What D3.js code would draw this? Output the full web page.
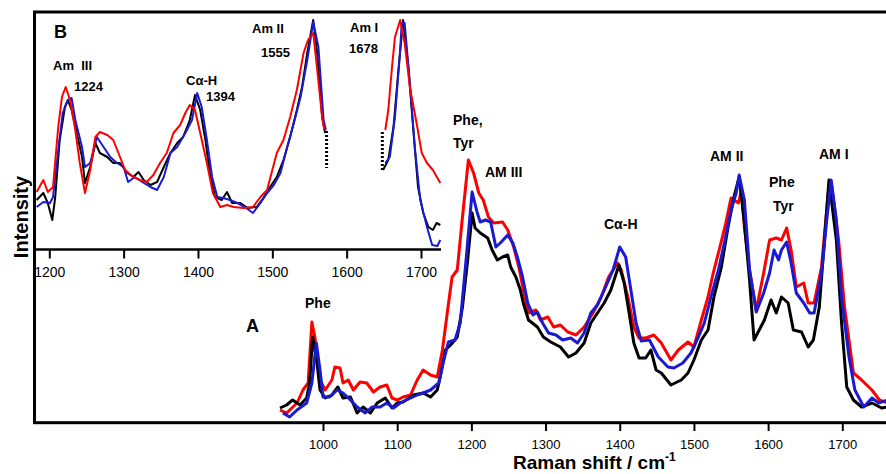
<!DOCTYPE html>
<html>
<head>
<meta charset="utf-8">
<script src="https://cdn.jsdelivr.net/npm/d3@7"></script>
<style>
  body { margin: 0; background: #fff; }
  svg { display: block; }
  text { font-family: Arial, "Liberation Sans", sans-serif; fill: #000; }
</style>
</head>
<body>
<div id="chart"></div>
<script>
// main spectra (A): [raman shift, intensity a.u.]
var mainRed = [
  [942,13],[951,10],[965,20],[973,33],[980,40],[985,101],[989,86],[996,43],[1003,33],[1012,43],[1016,56],
  [1023,55],[1027,40],[1034,43],[1041,33],[1050,41],[1059,40],[1068,31],[1077,36],[1086,38],[1093,25],
  [1100,23],[1108,26],[1118,28],[1127,43],[1135,53],[1145,48],[1154,46],[1161,73],[1168,113],[1174,146],
  [1181,153],[1188,206],[1196,263],[1203,250],[1210,230],[1216,223],[1223,206],[1230,200],[1242,201],
  [1249,193],[1257,176],[1264,156],[1270,133],[1277,110],[1287,113],[1293,103],[1303,106],[1311,96],
  [1320,98],[1330,91],[1341,88],[1352,96],[1364,110],[1375,126],[1385,146],[1397,160],[1402,153],
  [1411,126],[1419,96],[1426,85],[1435,85],[1446,88],[1456,80],[1469,63],[1479,73],[1492,81],[1500,76],
  [1510,103],[1519,126],[1526,150],[1534,173],[1543,200],[1550,225],[1560,220],[1564,233],[1568,196],
  [1575,153],[1584,113],[1594,150],[1602,183],[1611,185],[1618,183],[1625,195],[1631,173],[1638,136],
  [1648,140],[1654,120],[1662,120],[1672,156],[1681,230],[1685,241],[1695,183],[1703,116],[1715,50],
  [1726,43],[1740,33],[1750,23],[1761,20]
];
var mainBlack = [
  [942,15],[951,18],[959,23],[969,18],[978,25],[982,40],[986,86],[992,60],[996,33],[1003,25],[1012,28],
  [1020,36],[1027,25],[1037,26],[1046,10],[1054,16],[1064,10],[1073,20],[1084,25],[1093,15],[1100,20],
  [1108,21],[1122,28],[1135,30],[1145,26],[1154,33],[1158,46],[1165,73],[1172,78],[1181,86],[1188,116],
  [1195,163],[1201,210],[1205,195],[1212,190],[1222,185],[1228,173],[1235,163],[1242,166],[1249,168],
  [1253,156],[1260,146],[1266,133],[1270,120],[1277,103],[1289,96],[1297,86],[1307,81],[1320,76],
  [1331,66],[1341,70],[1352,80],[1361,100],[1370,110],[1379,120],[1388,133],[1399,158],[1406,140],
  [1412,113],[1419,80],[1426,65],[1435,65],[1442,73],[1449,53],[1456,50],[1469,38],[1483,43],[1492,50],
  [1500,63],[1510,83],[1519,93],[1527,126],[1537,156],[1546,196],[1554,226],[1561,246],[1568,200],
  [1575,143],[1581,83],[1588,93],[1595,103],[1604,123],[1611,110],[1618,126],[1627,120],[1634,93],
  [1645,91],[1654,76],[1661,83],[1669,116],[1676,183],[1682,243],[1692,183],[1699,100],[1706,36],
  [1715,23],[1726,16],[1740,20],[1753,15],[1761,16]
];
var mainBlue = [
  [946,10],[955,6],[965,13],[978,20],[985,40],[991,80],[996,53],[1000,26],[1009,26],[1019,33],[1027,30],
  [1037,23],[1046,16],[1057,10],[1066,16],[1077,16],[1086,20],[1095,15],[1104,20],[1118,25],[1127,28],
  [1135,30],[1145,33],[1156,40],[1162,60],[1169,81],[1178,83],[1185,100],[1192,156],[1201,231],[1208,210],
  [1212,201],[1219,203],[1226,201],[1233,176],[1239,180],[1249,188],[1256,180],[1262,166],[1269,146],
  [1276,120],[1283,108],[1289,111],[1296,100],[1304,90],[1314,88],[1323,83],[1334,85],[1343,80],
  [1352,90],[1361,110],[1370,118],[1381,136],[1391,153],[1400,176],[1408,166],[1415,133],[1422,100],
  [1429,82],[1440,83],[1452,66],[1465,56],[1473,55],[1485,60],[1496,70],[1506,86],[1514,100],[1523,126],
  [1533,153],[1541,180],[1550,213],[1557,230],[1561,248],[1568,223],[1575,153],[1584,111],[1594,130],
  [1602,150],[1608,173],[1614,163],[1618,173],[1625,181],[1631,160],[1638,130],[1648,120],[1656,110],
  [1662,110],[1672,150],[1679,203],[1685,243],[1692,203],[1699,126],[1709,66],[1717,33],[1729,16],
  [1740,25],[1749,20],[1761,23]
];

// inset spectra (B), two ranges each side of the break
var insetBlack = [
  [1183,49],[1192,56],[1198,46],[1204,29],[1208,52],[1214,109],[1221,142],[1225,149],[1230,139],[1237,116],
  [1244,92],[1248,66],[1255,82],[1262,106],[1268,96],[1278,92],[1286,86],[1295,86],[1305,76],[1313,72],
  [1320,77],[1327,69],[1336,64],[1345,67],[1354,82],[1363,96],[1372,106],[1380,112],[1389,129],[1396,154],
  [1403,139],[1410,109],[1416,76],[1423,52],[1432,49],[1439,57],[1446,46],[1457,46],[1467,41],[1479,42],
  [1488,51],[1497,62],[1506,72],[1515,89],[1524,112],[1533,139],[1540,162],[1547,196],[1555,229],
  [1560,199],[1567,132],[1571,116]
];
var insetBlack2 = [
  [1649,79],[1656,89],[1663,122],[1670,182],[1676,229],[1683,182],[1690,116],[1696,62],[1703,36],
  [1710,22],[1716,19],[1721,26],[1726,24]
];
var insetBlue = [
  [1183,42],[1192,47],[1201,46],[1205,52],[1212,99],[1218,136],[1225,149],[1230,151],[1235,129],[1244,102],
  [1248,82],[1255,86],[1264,112],[1273,102],[1282,92],[1291,86],[1300,82],[1306,67],[1315,72],[1325,67],
  [1336,62],[1345,59],[1354,72],[1363,96],[1372,102],[1383,116],[1392,129],[1399,156],[1405,142],
  [1412,109],[1419,72],[1426,52],[1434,51],[1443,49],[1453,46],[1463,42],[1474,36],[1484,46],[1493,56],
  [1502,64],[1511,76],[1520,102],[1529,126],[1538,152],[1547,189],[1555,227],[1562,202],[1569,129],
  [1572,119]
];
var insetBlue2 = [
  [1652,86],[1658,92],[1665,132],[1672,199],[1674,226],[1678,226],[1685,166],[1692,99],[1699,49],
  [1708,22],[1715,4],[1722,3],[1726,9]
];
var insetRed = [
  [1183,57],[1192,69],[1198,57],[1205,62],[1212,122],[1217,152],[1222,162],[1228,149],[1235,119],
  [1241,86],[1248,56],[1255,79],[1262,112],[1268,117],[1278,114],[1286,109],[1293,96],[1302,79],
  [1313,72],[1322,69],[1331,67],[1340,74],[1349,86],[1358,96],[1367,116],[1376,124],[1383,136],
  [1389,144],[1396,139],[1403,116],[1412,86],[1420,56],[1430,42],[1439,44],[1448,42],[1461,41],
  [1474,42],[1484,52],[1493,59],[1506,96],[1515,109],[1524,132],[1533,159],[1542,196],[1548,209],
  [1555,216],[1560,182],[1567,132],[1570,119]
];
var insetRed2 = [
  [1652,119],[1656,139],[1661,182],[1665,212],[1672,229],[1678,206],[1685,162],[1695,122],[1701,96],
  [1708,86],[1716,79],[1726,66]
];
// break marks in the inset: [raman shift, intensity from, intensity to]
var breakMarks = [[1573,118,81],[1648,117,79]];

var mainTicks = [1000,1100,1200,1300,1400,1500,1600,1700];
var insetTicks = [1200,1300,1400,1500,1600,1700];

var width = 886, height = 474;
var svg = d3.select('#chart').append('svg')
  .attr('width', width)
  .attr('height', height);

var x = d3.scaleLinear().domain([1000,1700]).range([323,842.3]);
var y = d3.scaleLinear().domain([0,411]).range([423,12]);
var xIn = d3.scaleLinear().domain([1200,1700]).range([49.3,421]);
var yIn = d3.scaleLinear().domain([0,237]).range([249,12]);

svg.append('clipPath').attr('id','plotclip')
  .append('rect').attr('x',35).attr('y',12).attr('width',860).attr('height',410);

var line = d3.line().x(function(d){ return x(d[0]) }).y(function(d){ return y(d[1]) });
var lineIn = d3.line().x(function(d){ return xIn(d[0]) }).y(function(d){ return yIn(d[1]) });

// main spectra
var mainSeries = [
  {data: mainRed, color: '#ff0000'},
  {data: mainBlack, color: '#000000'},
  {data: mainBlue, color: '#1a1ad0'}
];
svg.append('g').attr('clip-path','url(#plotclip)')
  .selectAll('path')
  .data(mainSeries)
  .enter()
  .append('path')
  .attr('d', function(d){ return line(d.data) })
  .attr('fill','none')
  .attr('stroke', function(d){ return d.color })
  .attr('stroke-width', 3)
  .attr('stroke-linejoin','round');

// inset spectra
var insetSeries = [
  {data: insetBlack, color: '#000000'},
  {data: insetBlack2, color: '#000000'},
  {data: insetBlue, color: '#1a1ad0'},
  {data: insetBlue2, color: '#1a1ad0'},
  {data: insetRed, color: '#ff0000'},
  {data: insetRed2, color: '#ff0000'}
];
svg.append('g')
  .selectAll('path')
  .data(insetSeries)
  .enter()
  .append('path')
  .attr('d', function(d){ return lineIn(d.data) })
  .attr('fill','none')
  .attr('stroke', function(d){ return d.color })
  .attr('stroke-width', 2)
  .attr('stroke-linejoin','round');

svg.selectAll('.brk')
  .data(breakMarks)
  .enter()
  .append('line')
  .attr('class','brk')
  .attr('x1', function(d){ return xIn(d[0]) })
  .attr('x2', function(d){ return xIn(d[0]) })
  .attr('y1', function(d){ return yIn(d[1]) })
  .attr('y2', function(d){ return yIn(d[2]) })
  .attr('stroke','#000')
  .attr('stroke-width',3)
  .attr('stroke-dasharray','2,2');

// frame
svg.append('rect')
  .attr('x',34.5).attr('y',12).attr('width',900).attr('height',410.7)
  .attr('fill','none').attr('stroke','#000').attr('stroke-width',3);

// main axis
var xAxis = d3.axisBottom(x).tickValues(mainTicks).tickSize(8).tickPadding(9)
  .tickFormat(d3.format('d'));
var gx = svg.append('g').attr('transform','translate(0,423)').call(xAxis);
gx.select('.domain').remove();
gx.selectAll('line').attr('stroke','#000').attr('stroke-width',2);
gx.selectAll('text').style('font-size','13px').attr('fill','#000');

// inset axis
svg.append('line')
  .attr('x1',35).attr('x2',441).attr('y1',249.5).attr('y2',249.5)
  .attr('stroke','#000').attr('stroke-width',2.4);
var xAxisIn = d3.axisBottom(xIn).tickValues(insetTicks).tickSize(9).tickPadding(9)
  .tickFormat(d3.format('d'));
var gxi = svg.append('g').attr('transform','translate(0,249.5)').call(xAxisIn);
gxi.select('.domain').remove();
gxi.selectAll('line').attr('stroke','#000').attr('stroke-width',2);
gxi.selectAll('text').style('font-size','14px').attr('fill','#000');

// axis titles
var xt = svg.append('text')
  .attr('x',513).attr('y',469)
  .style('font-size','19px').style('font-weight','bold');
xt.append('tspan').text('Raman shift / cm');
xt.append('tspan').attr('dy',-8).style('font-size','12px').text('-1');

svg.append('text')
  .attr('transform','translate(28,217) rotate(-90)')
  .attr('text-anchor','middle')
  .style('font-size','20px').style('font-weight','bold')
  .text('Intensity');

// panel letters
svg.append('text').attr('x',54).attr('y',38)
  .style('font-size','18px').style('font-weight','bold').text('B');
svg.append('text').attr('x',246).attr('y',332)
  .style('font-size','18px').style('font-weight','bold').text('A');

// band labels
var insetLabels = [
  ['Am  III',53,70],['1224',74,91],['C\u03b1-H',186,85],['1394',206,101],
  ['Am II',252,33],['1555',261,57],['Am I',350,32],['1678',349,53]
];
var mainLabels = [
  ['Phe,',453,125],['Tyr',453,148],['AM III',485,177],['C\u03b1-H',604,229],
  ['AM II',710,161],['Phe',769,187],['Tyr',773,211],['AM I',819,159],['Phe',305,308]
];
svg.selectAll('.lblIn')
  .data(insetLabels)
  .enter()
  .append('text')
  .attr('class','lblIn')
  .attr('x', function(d){ return d[1] })
  .attr('y', function(d){ return d[2] })
  .style('font-size','13px').style('font-weight','bold')
  .style('white-space','pre')
  .text(function(d){ return d[0] });
svg.selectAll('.lbl')
  .data(mainLabels)
  .enter()
  .append('text')
  .attr('class','lbl')
  .attr('x', function(d){ return d[1] })
  .attr('y', function(d){ return d[2] })
  .style('font-size','14px').style('font-weight','bold')
  .text(function(d){ return d[0] });
</script>
</body>
</html>
